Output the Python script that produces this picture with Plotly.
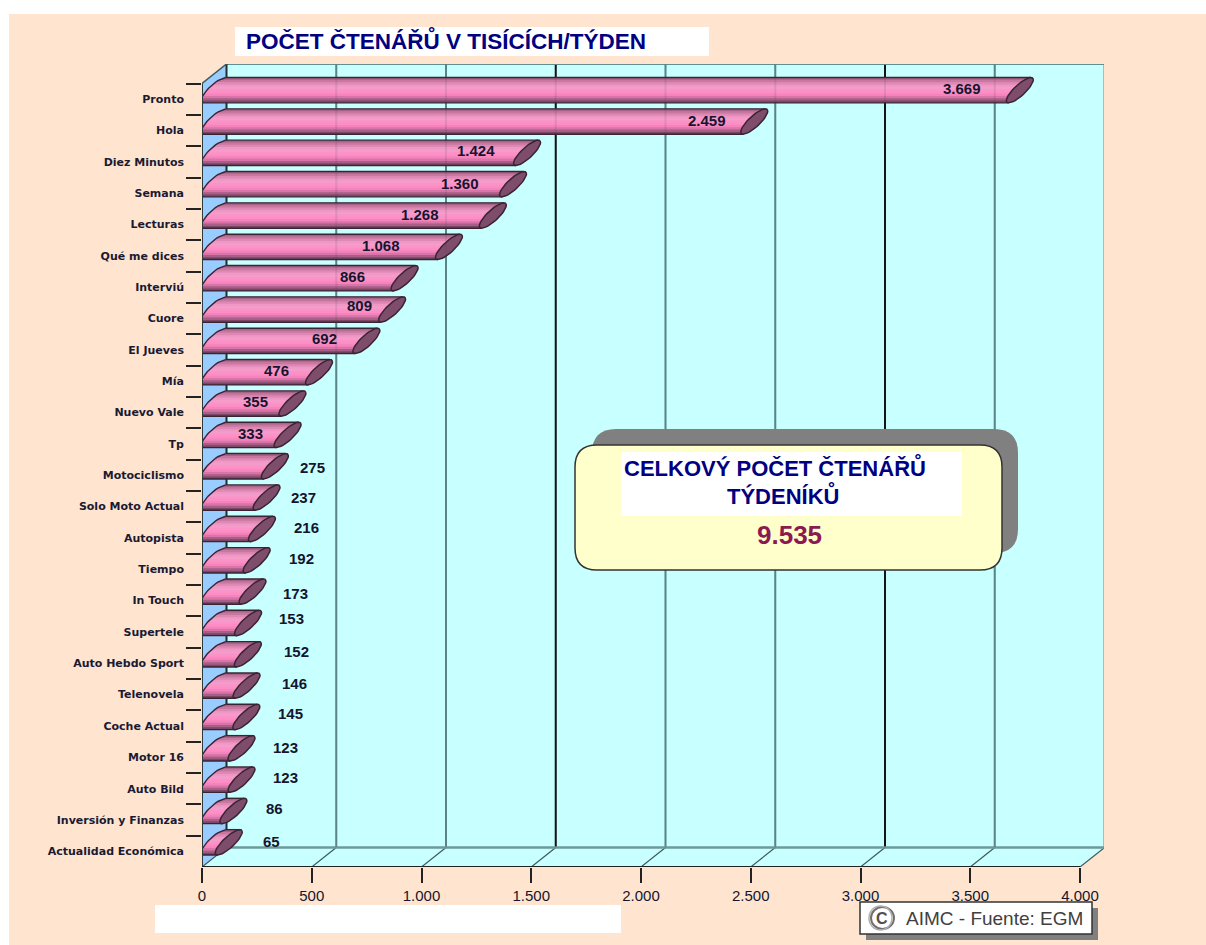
# -*- coding: utf-8 -*-
"""Počet čtenářů v tisících/týden: 3D style cylinder bars on Plotly axes."""
import numpy as np
import plotly.graph_objects as go

# ── Data ──────────────────────────────────────────────────────────────────────

TITLES = [
    "Pronto", "Hola", "Diez Minutos", "Semana", "Lecturas", "Qué me dices",
    "Interviú", "Cuore", "El Jueves", "Mía", "Nuevo Vale", "Tp",
    "Motociclismo", "Solo Moto Actual", "Autopista", "Tiempo", "In Touch",
    "Supertele", "Auto Hebdo Sport", "Telenovela", "Coche Actual", "Motor 16",
    "Auto Bild", "Inversión y Finanzas", "Actualidad Económica",
]
READERS = [
    3669, 2459, 1424, 1360, 1268, 1068, 866, 809, 692, 476, 355, 333,
    275, 237, 216, 192, 173, 153, 152, 146, 145, 123, 123, 86, 65,
]
TICK_VALUES = [0, 500, 1000, 1500, 2000, 2500, 3000, 3500, 4000]
TICK_LABELS = ["0", "500", "1.000", "1.500", "2.000", "2.500", "3.000", "3.500", "4.000"]
TOTAL_LABEL = "9.535"

# hand placement of the value labels, pixels away from the bar end / band centre
LABEL_DX = [-45, -35, -39, -41, -60, -55, -40, -20, -29, -30, -24, -25,
            50, 49, 57, 57, 56, 56, 61, 60, 57, 56, 56, 54, 55]
LABEL_DY = [-11, -10, -11, -10, -10, -10, -11, -13, -11, -11, -11, -10,
            -8, -9, -10, -11, -7, -13, -12, -11, -12, -10, -11, -11, -10]

# ── Design tokens ─────────────────────────────────────────────────────────────

W, H = 1206, 945
LEFT, RIGHT_BACK, TOP_BACK, BOTTOM = 202, 1104, 64, 867
PX_X = (1080 - 202) / 4000      # pixels per reader unit
PX_Y = (867 - 64) / 25.62       # pixels per band
DEPTH_X = 24.5 / PX_X
DEPTH_Y = 19.5 / PX_Y

PEACH = "#FFE5CF"
WALL = "#C8FFFF"
SIDE = "#99CCFF"
GRID = "#5F8F8F"
NAVY = "#000080"
CAP = "#7F4D6C"
EDGE = "#3A2433"
STRIPES = ["#A8638A", "#C8789F", "#DE88B6", "#EF98C6", "#F59CCB", "#FA94C8",
           "#FF8CC4", "#F484BC", "#D874A8", "#A85E88", "#7A4764"]

# cap ellipse in pixels: centre offset from the bar end and its two half axes
ELL_CX, ELL_CY = 12.5, -9.0
UX, UY = 13.0, -12.0
VX, VY = 3.6, 4.1
FONT = "Liberation Sans, Arial, sans-serif"


def px(x):
    return (x - LEFT) / (RIGHT_BACK - LEFT)


def py(y):
    return (BOTTOM - y) / (BOTTOM - TOP_BACK)


def ellipse_sides(dy):
    """x offsets (left, right) of the ellipse at a height dy from its centre."""
    r = np.hypot(UY, VY)
    phi = np.arctan2(VY, UY)
    off = np.arccos(np.clip(dy / r, -1, 1))
    xs = [UX * np.cos(phi + s * off) + VX * np.sin(phi + s * off) for s in (1, -1)]
    return min(xs), max(xs)


def rounded(x0, y0, x1, y1, r):
    a, b, c, d = px(x0), px(x1), py(y0), py(y1)
    rx, ry = r / (RIGHT_BACK - LEFT), r / (BOTTOM - TOP_BACK)
    return (f"M{a + rx},{c} L{b - rx},{c} Q{b},{c} {b},{c - ry} L{b},{d + ry} "
            f"Q{b},{d} {b - rx},{d} L{a + rx},{d} Q{a},{d} {a},{d + ry} "
            f"L{a},{c - ry} Q{a},{c} {a + rx},{c} Z")


fig = go.Figure()

# invisible real bars carry the category axis and the hover text
fig.add_trace(go.Bar(
    x=READERS, y=TITLES, orientation="h", marker=dict(opacity=0),
    hovertemplate="<b>%{y}</b><br>%{x}<extra></extra>",
))


def poly(xs, ys, fill=None, line=None, width=1.0):
    fig.add_trace(go.Scatter(
        x=xs, y=ys, yaxis="y2", mode="lines", hoverinfo="skip", cliponaxis=False,
        fill="toself" if fill else None, fillcolor=fill,
        line=dict(color=line or "rgba(0,0,0,0)", width=width),
    ))


# ── Walls ─────────────────────────────────────────────────────────────────────

Y_FRONT_TOP, Y_FRONT_BOT = -0.5, 24.5
Y_BACK_TOP, Y_BACK_BOT = Y_FRONT_TOP - DEPTH_Y, Y_FRONT_BOT - DEPTH_Y
X_MAX = TICK_VALUES[-1]

poly([DEPTH_X, X_MAX + DEPTH_X, X_MAX + DEPTH_X, DEPTH_X, DEPTH_X],
     [Y_BACK_TOP, Y_BACK_TOP, Y_BACK_BOT, Y_BACK_BOT, Y_BACK_TOP], fill=WALL)
poly([0, X_MAX, X_MAX + DEPTH_X, DEPTH_X, 0],
     [Y_FRONT_BOT, Y_FRONT_BOT, Y_BACK_BOT, Y_BACK_BOT, Y_FRONT_BOT], fill=WALL)
poly([0, DEPTH_X, DEPTH_X, 0, 0],
     [Y_FRONT_TOP, Y_BACK_TOP, Y_BACK_BOT, Y_FRONT_BOT, Y_FRONT_TOP], fill=SIDE)

for v in TICK_VALUES[1:]:
    color = "#111111" if v in (1500, 3000) else GRID
    poly([v + DEPTH_X] * 2, [Y_BACK_TOP, Y_BACK_BOT], line=color, width=2)
    poly([v, v + DEPTH_X], [Y_FRONT_BOT, Y_BACK_BOT], line="#3E5A5A", width=1.2)
poly([DEPTH_X, X_MAX + DEPTH_X], [Y_BACK_TOP, Y_BACK_TOP], line=GRID, width=2)
poly([DEPTH_X, X_MAX + DEPTH_X], [Y_BACK_BOT, Y_BACK_BOT], line="#6F9898", width=2.5)
poly([DEPTH_X, DEPTH_X], [Y_BACK_TOP, Y_BACK_BOT], line="#1F2F2F", width=2)
poly([0, DEPTH_X], [Y_FRONT_TOP, Y_BACK_TOP], line="#3E5A5A", width=1.5)
poly([0, DEPTH_X], [Y_FRONT_BOT, Y_BACK_BOT], line="#3E5A5A", width=1.2)

# ── Cylinders ─────────────────────────────────────────────────────────────────

R_Y = np.hypot(UY, VY)
levels = np.linspace(-R_Y, R_Y, len(STRIPES) + 1)

for s, color in enumerate(STRIPES):
    xs, ys = [], []
    # each stripe runs a bit under the next one so no seams show
    low = min(levels[s + 1] + 1.0, R_Y)
    for i, v in enumerate(READERS):
        heights = np.linspace(levels[s], low, 4)
        for h in heights:
            xs.append((ELL_CX + ellipse_sides(h)[0]) / PX_X)
            ys.append(i + (ELL_CY + h) / PX_Y)
        for h in heights[::-1]:
            xs.append(v + (ELL_CX + ellipse_sides(h)[1]) / PX_X)
            ys.append(i + (ELL_CY + h) / PX_Y)
        xs.append(None)
        ys.append(None)
    poly(xs, ys, fill=color)

theta = np.linspace(0, 2 * np.pi, 41)
cap_xs, cap_ys, out_xs, out_ys = [], [], [], []
for i, v in enumerate(READERS):
    ex = (ELL_CX + UX * np.cos(theta) + VX * np.sin(theta)) / PX_X
    ey = i + (ELL_CY + UY * np.cos(theta) + VY * np.sin(theta)) / PX_Y
    cap_xs += list(v + ex) + [None]
    cap_ys += list(ey) + [None]
    # silhouette: base ellipse left side, then along the top and under the bar
    hs = np.linspace(-R_Y, R_Y, 17)
    out_xs += [(ELL_CX + ellipse_sides(h)[0]) / PX_X for h in hs]
    out_ys += [i + (ELL_CY + h) / PX_Y for h in hs]
    out_xs += [v + (ELL_CX + ellipse_sides(R_Y)[0]) / PX_X, None]
    out_ys += [i + (ELL_CY + R_Y) / PX_Y, None]
    out_xs += [(ELL_CX + ellipse_sides(-R_Y)[0]) / PX_X,
               v + (ELL_CX + ellipse_sides(-R_Y)[0]) / PX_X, None]
    out_ys += [i + (ELL_CY - R_Y) / PX_Y, i + (ELL_CY - R_Y) / PX_Y, None]

poly(cap_xs, cap_ys, fill=CAP, line=EDGE, width=1.5)
poly(out_xs, out_ys, line=EDGE, width=1.4)

# the back grid shows faintly through the bars
for v in TICK_VALUES[1:-1]:
    poly([v + DEPTH_X] * 2, [Y_BACK_TOP, Y_BACK_BOT], line="rgba(60,60,80,0.12)", width=2)

# front axis lines
poly([0, 0], [Y_FRONT_TOP, Y_FRONT_BOT], line="#2F3A3A", width=2)
poly([0, X_MAX], [Y_FRONT_BOT, Y_FRONT_BOT], line="#222222", width=2)

# ── Labels ────────────────────────────────────────────────────────────────────

for i, v in enumerate(READERS):
    fig.add_annotation(
        x=v, y=i, xref="x", yref="y2", text=f"{v:,}".replace(",", "."),
        showarrow=False, xshift=LABEL_DX[i], yshift=-LABEL_DY[i],
        font=dict(family=FONT, size=15, color="#15152E", weight="bold"),
    )


def note(x, y, text, size, color, weight="bold"):
    fig.add_annotation(
        x=px(x), y=py(y), xref="paper", yref="paper", text=text, showarrow=False,
        xanchor="center", yanchor="middle",
        font=dict(family=FONT, size=size, color=color, weight=weight),
    )


note(445.5, 40, "POČET ČTENÁŘŮ V TISÍCÍCH/TÝDEN", 22.5, NAVY)
note(775, 467, "CELKOVÝ POČET ČTENÁŘŮ", 22, NAVY)
note(783, 495, "TÝDENÍKŮ", 22, NAVY)
note(789, 535, TOTAL_LABEL, 26, "#8B1A50")
note(994.5, 918, "AIMC - Fuente: EGM", 19, "#404040", "normal")
note(882, 918, "C", 16, "#505050")


def box(x0, y0, x1, y1, fill, line=None, width=0, layer="below"):
    fig.add_shape(type="rect", xref="paper", yref="paper", layer=layer,
                  x0=px(x0), x1=px(x1), y0=py(y0), y1=py(y1), fillcolor=fill,
                  line=dict(color=line, width=width) if line else dict(width=0))


box(9, 14, W, H, PEACH)
box(235, 27, 709, 56, "white")
box(155, 905, 621, 933, "white")

# source stamp
box(866, 908, 1098, 940, "#808080")
box(860, 902, 1092, 934, "white", "#333333", 1.5)
fig.add_shape(type="circle", xref="paper", yref="paper",
              x0=px(871), x1=px(894), y0=py(907), y1=py(929),
              line=dict(color="#707070", width=2))
fig.add_shape(type="circle", xref="paper", yref="paper",
              x0=px(869), x1=px(892), y0=py(906), y1=py(930),
              line=dict(color="#B0B0B0", width=1.5))

# callout
fig.add_shape(type="path", xref="paper", yref="paper", layer="above",
              path=rounded(592, 429, 1018, 553, 24), fillcolor="#808080", line=dict(width=0))
fig.add_shape(type="path", xref="paper", yref="paper", layer="above",
              path=rounded(575, 445, 1002, 570, 22), fillcolor="#FFFFCC",
              line=dict(color="#333333", width=1.5))
box(621, 452, 962, 516, "white", layer="above")

# ── Layout ────────────────────────────────────────────────────────────────────

y_range = [24.5, -0.5 - DEPTH_Y]
fig.update_layout(
    width=W, height=H, showlegend=False, hovermode="closest", autosize=False,
    paper_bgcolor="white", plot_bgcolor="rgba(0,0,0,0)",
    margin=dict(l=LEFT, r=W - RIGHT_BACK, t=TOP_BACK, b=H - BOTTOM, pad=0),
    xaxis=dict(
        range=[0, (RIGHT_BACK - LEFT) / PX_X], tickvals=TICK_VALUES, ticktext=TICK_LABELS,
        ticks="outside", ticklen=15, tickwidth=2, tickcolor="#222222", tickangle=0,
        showgrid=False, zeroline=False, showline=False,
        tickfont=dict(family=FONT, size=15, color="#15152E"),
    ),
    yaxis=dict(
        type="category", categoryorder="array", categoryarray=TITLES, range=y_range,
        tickson="boundaries", ticks="outside", ticklen=15, tickwidth=2, tickcolor="#222222",
        showgrid=False, zeroline=False, showline=False, tickmode="linear", dtick=1,
        ticklabelstandoff=17,
        tickfont=dict(family="DejaVu Sans", size=11, color="#1A1A33", weight="bold"),
    ),
    yaxis2=dict(overlaying="y", range=y_range, visible=False, showgrid=False, zeroline=False),
)

# the reference sits flush with the window corner
fig.write_html("out.html", config=dict(displayModeBar=False),
               post_script="document.body.style.margin='0';")
